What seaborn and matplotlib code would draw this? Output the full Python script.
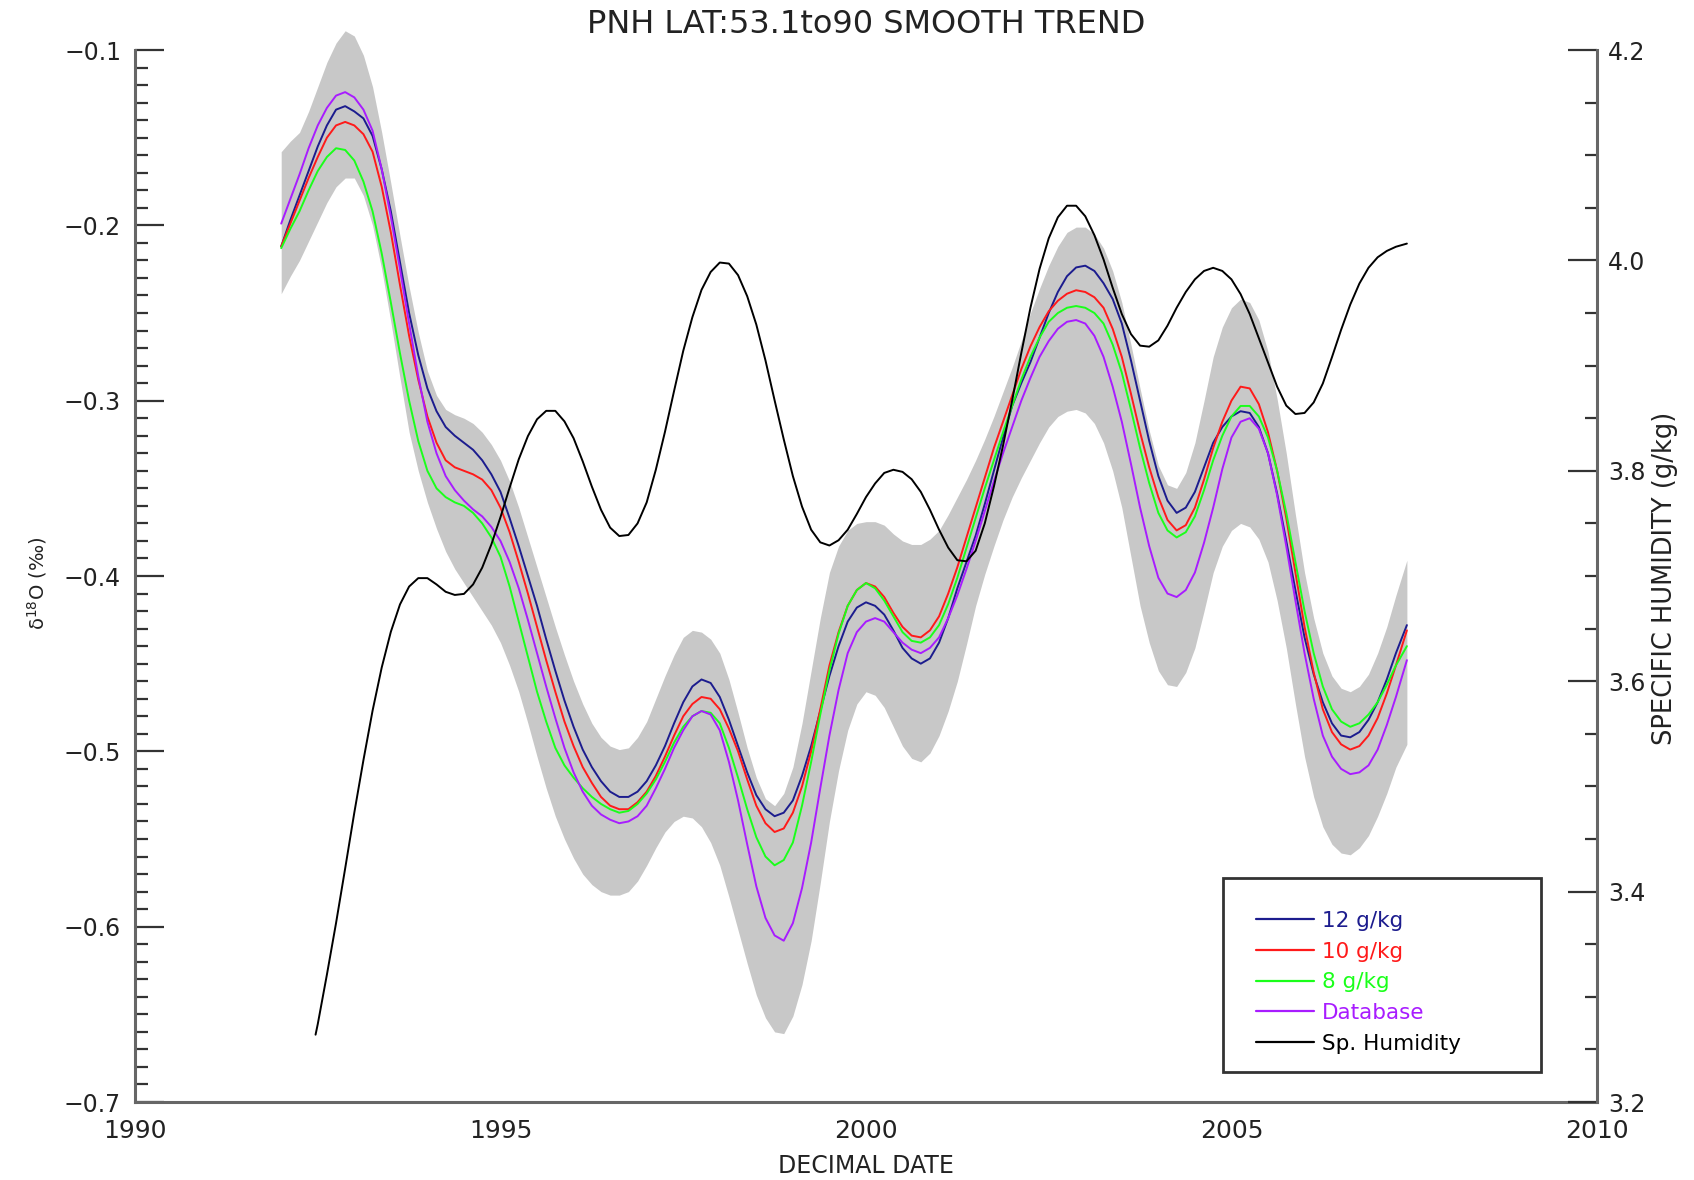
import numpy as np
import pandas as pd
import matplotlib
matplotlib.use("Agg")
import matplotlib.pyplot as plt
from matplotlib.ticker import MultipleLocator, FuncFormatter
from matplotlib.lines import Line2D
from matplotlib.patches import Rectangle
import seaborn as sns

# ---------------- data ----------------
years = list(np.round(np.arange(1992.0, 2007.3, 0.125), 3)) + [2007.4]

d18o_12gkg = [
    -0.212, -0.197, -0.183, -0.169, -0.155, -0.143, -0.134, -0.132, -0.135, -0.139,
    -0.149, -0.168, -0.192, -0.221, -0.250, -0.274, -0.293, -0.306, -0.315, -0.320,
    -0.324, -0.328, -0.334, -0.342, -0.352, -0.367, -0.383, -0.400, -0.417, -0.436,
    -0.454, -0.471, -0.486, -0.499, -0.509, -0.517, -0.523, -0.526, -0.526, -0.523,
    -0.517, -0.508, -0.497, -0.484, -0.472, -0.463, -0.459, -0.461, -0.469, -0.482,
    -0.497, -0.512, -0.525, -0.533, -0.537, -0.535, -0.528, -0.514, -0.497, -0.477,
    -0.457, -0.440, -0.426, -0.418, -0.415, -0.417, -0.422, -0.431, -0.441, -0.447,
    -0.450, -0.447, -0.438, -0.424, -0.407, -0.392, -0.377, -0.359, -0.340, -0.321,
    -0.303, -0.290, -0.278, -0.264, -0.250, -0.238, -0.229, -0.224, -0.223, -0.226,
    -0.233, -0.242, -0.256, -0.277, -0.300, -0.323, -0.343, -0.357, -0.364, -0.361,
    -0.352, -0.338, -0.324, -0.315, -0.309, -0.306, -0.307, -0.315, -0.330, -0.353,
    -0.380, -0.408, -0.435, -0.456, -0.472, -0.484, -0.491, -0.492, -0.489, -0.482,
    -0.472, -0.459, -0.444, -0.428]

d18o_10gkg = [
    -0.212, -0.199, -0.186, -0.173, -0.161, -0.150, -0.143, -0.141, -0.143, -0.148,
    -0.158, -0.178, -0.204, -0.234, -0.263, -0.288, -0.309, -0.324, -0.334, -0.338,
    -0.340, -0.342, -0.345, -0.351, -0.361, -0.375, -0.392, -0.410, -0.429, -0.448,
    -0.466, -0.483, -0.497, -0.509, -0.518, -0.526, -0.531, -0.533, -0.533, -0.529,
    -0.523, -0.514, -0.503, -0.491, -0.480, -0.473, -0.469, -0.470, -0.476, -0.487,
    -0.500, -0.516, -0.531, -0.541, -0.546, -0.544, -0.535, -0.520, -0.500, -0.476,
    -0.451, -0.432, -0.417, -0.408, -0.404, -0.406, -0.412, -0.421, -0.429, -0.434,
    -0.435, -0.431, -0.423, -0.410, -0.395, -0.378, -0.361, -0.344, -0.327, -0.312,
    -0.297, -0.282, -0.269, -0.258, -0.249, -0.243, -0.239, -0.237, -0.238, -0.241,
    -0.247, -0.259, -0.275, -0.296, -0.318, -0.338, -0.355, -0.368, -0.374, -0.371,
    -0.361, -0.345, -0.327, -0.312, -0.300, -0.292, -0.293, -0.302, -0.318, -0.340,
    -0.367, -0.398, -0.429, -0.455, -0.476, -0.489, -0.496, -0.499, -0.497, -0.491,
    -0.481, -0.467, -0.451, -0.431]

d18o_8gkg = [
    -0.213, -0.202, -0.192, -0.180, -0.169, -0.161, -0.156, -0.157, -0.163, -0.175,
    -0.192, -0.216, -0.244, -0.273, -0.300, -0.323, -0.340, -0.350, -0.355, -0.358,
    -0.360, -0.364, -0.370, -0.378, -0.389, -0.406, -0.426, -0.446, -0.466, -0.483,
    -0.498, -0.508, -0.515, -0.521, -0.526, -0.530, -0.533, -0.535, -0.534, -0.530,
    -0.524, -0.516, -0.506, -0.495, -0.486, -0.480, -0.477, -0.478, -0.484, -0.498,
    -0.515, -0.533, -0.549, -0.560, -0.565, -0.562, -0.552, -0.531, -0.506, -0.479,
    -0.454, -0.433, -0.417, -0.408, -0.404, -0.407, -0.414, -0.423, -0.432, -0.437,
    -0.438, -0.435, -0.428, -0.416, -0.401, -0.384, -0.367, -0.350, -0.334, -0.318,
    -0.303, -0.288, -0.275, -0.264, -0.255, -0.250, -0.247, -0.246, -0.247, -0.250,
    -0.256, -0.268, -0.284, -0.305, -0.327, -0.347, -0.364, -0.374, -0.378, -0.375,
    -0.366, -0.351, -0.334, -0.320, -0.309, -0.303, -0.303, -0.309, -0.321, -0.340,
    -0.364, -0.392, -0.420, -0.444, -0.463, -0.476, -0.483, -0.486, -0.484, -0.479,
    -0.472, -0.462, -0.451, -0.440]

d18o_database = [
    -0.199, -0.185, -0.171, -0.156, -0.143, -0.133, -0.126, -0.124, -0.127, -0.134,
    -0.146, -0.168, -0.195, -0.225, -0.256, -0.286, -0.312, -0.330, -0.343, -0.351,
    -0.357, -0.362, -0.366, -0.372, -0.380, -0.392, -0.407, -0.425, -0.444, -0.463,
    -0.481, -0.498, -0.512, -0.523, -0.531, -0.536, -0.539, -0.541, -0.540, -0.537,
    -0.531, -0.521, -0.510, -0.498, -0.488, -0.480, -0.477, -0.479, -0.488, -0.506,
    -0.528, -0.553, -0.577, -0.595, -0.605, -0.608, -0.598, -0.578, -0.552, -0.521,
    -0.491, -0.465, -0.444, -0.432, -0.426, -0.424, -0.426, -0.432, -0.438, -0.442,
    -0.444, -0.441, -0.435, -0.424, -0.411, -0.396, -0.380, -0.363, -0.346, -0.330,
    -0.315, -0.300, -0.287, -0.275, -0.266, -0.259, -0.255, -0.254, -0.256, -0.263,
    -0.275, -0.292, -0.312, -0.336, -0.361, -0.383, -0.401, -0.410, -0.412, -0.408,
    -0.398, -0.381, -0.361, -0.339, -0.321, -0.312, -0.310, -0.316, -0.330, -0.354,
    -0.383, -0.414, -0.444, -0.470, -0.491, -0.503, -0.510, -0.513, -0.512, -0.508,
    -0.499, -0.485, -0.469, -0.448]

band_upper = [
    -0.158, -0.152, -0.147, -0.135, -0.121, -0.107, -0.096, -0.089, -0.092, -0.103,
    -0.121, -0.147, -0.176, -0.206, -0.235, -0.261, -0.283, -0.297, -0.305, -0.308,
    -0.310, -0.313, -0.318, -0.325, -0.334, -0.346, -0.361, -0.378, -0.395, -0.412,
    -0.429, -0.445, -0.460, -0.473, -0.484, -0.492, -0.497, -0.499, -0.498, -0.492,
    -0.483, -0.470, -0.457, -0.445, -0.435, -0.431, -0.432, -0.436, -0.444, -0.459,
    -0.478, -0.498, -0.515, -0.527, -0.531, -0.524, -0.509, -0.484, -0.454, -0.424,
    -0.398, -0.383, -0.374, -0.370, -0.369, -0.369, -0.371, -0.376, -0.380, -0.382,
    -0.382, -0.379, -0.374, -0.365, -0.355, -0.345, -0.334, -0.322, -0.309, -0.295,
    -0.281, -0.266, -0.250, -0.236, -0.223, -0.212, -0.204, -0.201, -0.201, -0.205,
    -0.213, -0.226, -0.244, -0.268, -0.293, -0.317, -0.337, -0.348, -0.350, -0.341,
    -0.324, -0.300, -0.275, -0.258, -0.247, -0.242, -0.244, -0.254, -0.272, -0.299,
    -0.330, -0.365, -0.398, -0.424, -0.444, -0.457, -0.464, -0.466, -0.463, -0.456,
    -0.444, -0.429, -0.411, -0.391]

band_lower = [
    -0.239, -0.229, -0.220, -0.209, -0.198, -0.187, -0.178, -0.173, -0.173, -0.183,
    -0.200, -0.225, -0.255, -0.287, -0.318, -0.340, -0.358, -0.373, -0.386, -0.396,
    -0.404, -0.412, -0.420, -0.428, -0.438, -0.451, -0.466, -0.484, -0.503, -0.521,
    -0.537, -0.550, -0.561, -0.570, -0.576, -0.580, -0.582, -0.582, -0.580, -0.574,
    -0.565, -0.555, -0.546, -0.540, -0.537, -0.538, -0.543, -0.552, -0.565, -0.583,
    -0.602, -0.621, -0.639, -0.652, -0.660, -0.661, -0.651, -0.633, -0.608, -0.575,
    -0.540, -0.511, -0.488, -0.473, -0.466, -0.468, -0.475, -0.486, -0.497, -0.504,
    -0.506, -0.501, -0.491, -0.477, -0.460, -0.439, -0.417, -0.399, -0.383, -0.368,
    -0.355, -0.344, -0.334, -0.324, -0.315, -0.309, -0.306, -0.305, -0.307, -0.313,
    -0.324, -0.340, -0.361, -0.389, -0.417, -0.438, -0.454, -0.462, -0.463, -0.455,
    -0.441, -0.420, -0.398, -0.383, -0.374, -0.370, -0.372, -0.379, -0.392, -0.414,
    -0.441, -0.473, -0.503, -0.526, -0.543, -0.553, -0.558, -0.559, -0.555, -0.548,
    -0.537, -0.524, -0.509, -0.496]

hum_years = [1992.47] + list(np.round(np.arange(1992.5, 2007.3, 0.125), 3)) + [2007.4]

sp_humidity = [
    3.264,
    3.274, 3.321, 3.370, 3.422, 3.475, 3.525, 3.572, 3.613, 3.647, 3.673,
    3.690, 3.698, 3.698, 3.692, 3.685, 3.682, 3.683, 3.692, 3.708, 3.730,
    3.756, 3.784, 3.811, 3.833, 3.849, 3.857, 3.857, 3.847, 3.831, 3.809,
    3.785, 3.763, 3.746, 3.738, 3.739, 3.750, 3.770, 3.801, 3.837, 3.876,
    3.914, 3.946, 3.972, 3.989, 3.998, 3.997, 3.986, 3.966, 3.939, 3.905,
    3.867, 3.830, 3.795, 3.766, 3.744, 3.732, 3.729, 3.734, 3.744, 3.759,
    3.775, 3.788, 3.798, 3.801, 3.799, 3.792, 3.780, 3.763, 3.744, 3.727,
    3.715, 3.714, 3.724, 3.750, 3.785, 3.824, 3.867, 3.912, 3.955, 3.992,
    4.021, 4.041, 4.052, 4.052, 4.042, 4.024, 4.001, 3.974, 3.949, 3.930,
    3.919, 3.918, 3.924, 3.938, 3.955, 3.970, 3.982, 3.990, 3.993, 3.990,
    3.982, 3.968, 3.949, 3.926, 3.903, 3.880, 3.862, 3.854, 3.855, 3.865,
    3.883, 3.908, 3.934, 3.958, 3.978, 3.993, 4.003, 4.009, 4.013, 4.016]

series_labels = ["12 g/kg", "10 g/kg", "8 g/kg", "Database"]
hum_label = "Sp. Humidity"

# ---------------- styling ----------------
sns.set_style("white")
plt.rcParams["font.family"] = ["DejaVu Sans"]
TXT = "#222222"
SPINE = "#666666"
colors = {"12 g/kg": "#1c1c8e", "10 g/kg": "#ff1a1a",
          "8 g/kg": "#1aff1a", "Database": "#a81cff"}

df = pd.DataFrame({"year": years,
                   "12 g/kg": d18o_12gkg, "10 g/kg": d18o_10gkg,
                   "8 g/kg": d18o_8gkg, "Database": d18o_database})
long = df.melt(id_vars="year", var_name="series", value_name="d18o")
hum = pd.DataFrame({"year": hum_years, "q": sp_humidity})

fig = plt.figure(figsize=(16.94, 11.80), dpi=100)
ax = fig.add_axes([0.0797, 0.0661, 0.8630, 0.8915])

ax.fill_between(years, band_lower, band_upper, color="#c8c8c8", lw=0, zorder=1,
                clip_on=False)
sns.lineplot(data=long, x="year", y="d18o", hue="series", palette=colors,
             hue_order=series_labels, ax=ax, lw=1.4, legend=False, zorder=3,
             estimator=None, sort=False)

ax2 = ax.twinx()
sns.lineplot(data=hum, x="year", y="q", ax=ax2, color="black", lw=1.4,
             legend=False, estimator=None, sort=False, zorder=4)

ax.set_xlim(1990, 2010)
ax.set_ylim(-0.7, -0.1)
ax2.set_ylim(3.2, 4.2)

ax.xaxis.set_major_locator(MultipleLocator(5))
ax.xaxis.set_minor_locator(MultipleLocator(1))
ax.yaxis.set_major_locator(MultipleLocator(0.1))
ax.yaxis.set_minor_locator(MultipleLocator(0.01))
ax2.yaxis.set_major_locator(MultipleLocator(0.2))
ax2.yaxis.set_minor_locator(MultipleLocator(0.05))
ax.yaxis.set_major_formatter(FuncFormatter(lambda v, p: f"{v:.1f}".replace("-", "\u2212")))
ax2.yaxis.set_major_formatter(FuncFormatter(lambda v, p: f"{v:.1f}"))
ax.xaxis.set_major_formatter(FuncFormatter(lambda v, p: f"{int(round(v))}"))

for a in (ax, ax2):
    a.spines["top"].set_visible(False)
    for s in a.spines.values():
        s.set_color(SPINE)
        s.set_linewidth(2.2)
ax.spines["right"].set_visible(False)
ax2.spines["left"].set_visible(False)
ax2.spines["bottom"].set_visible(False)

ax.tick_params(axis="y", which="major", direction="in", length=21, width=1.6,
               color="#333333", labelsize=17, labelcolor=TXT, pad=10,
               left=True, right=False)
ax.tick_params(axis="y", which="minor", direction="in", length=9, width=1.6,
               color="#333333", left=True, right=False)
ax.tick_params(axis="x", which="major", direction="in", length=16, width=1.6,
               color="#333333", labelsize=18, labelcolor=TXT, pad=12, top=False)
ax.tick_params(axis="x", which="minor", direction="in", length=9, width=1.6,
               color="#333333", top=False)
ax2.tick_params(axis="y", which="major", direction="in", length=21, width=1.6,
                color="#333333", labelsize=17, labelcolor=TXT, pad=8)
ax2.tick_params(axis="y", which="minor", direction="in", length=9, width=1.6,
                color="#333333")

ax.set_xlabel("")
ax.set_ylabel("")
ax2.set_ylabel("")
fig.text(0.5112, 0.979, "PNH LAT:53.1to90 SMOOTH TREND", ha="center", va="center",
         fontsize=23, color=TXT)
fig.text(0.5112, 0.012, "DECIMAL DATE", ha="center", va="center",
         fontsize=17, color=TXT)
fig.text(0.022, 0.506, "\u03b4$^{18}$O (\u2030)", ha="center", va="center",
         rotation=90, fontsize=14, color=TXT)
fig.text(0.983, 0.51, "SPECIFIC HUMIDITY (g/kg)", ha="center", va="center",
         rotation=90, fontsize=18.5, color=TXT)

# legend with its own frame box
ax2.add_patch(Rectangle((0.744, 0.0285), 0.218, 0.1845, transform=ax2.transAxes,
                        facecolor="white", edgecolor="#333333", lw=2.0, zorder=5))
handles = [Line2D([], [], color=colors[k], lw=1.6) for k in series_labels]
handles.append(Line2D([], [], color="black", lw=1.6))
leg = ax2.legend(handles, series_labels + [hum_label], loc="upper left",
                 bbox_to_anchor=(0.761, 0.19), frameon=False, fontsize=15.5,
                 handlelength=2.7, handletextpad=0.35, labelspacing=0.5,
                 borderaxespad=0, labelcolor=[colors[k] for k in series_labels] + ["black"])
leg.set_zorder(6)

fig.savefig("out.png", dpi=100)
